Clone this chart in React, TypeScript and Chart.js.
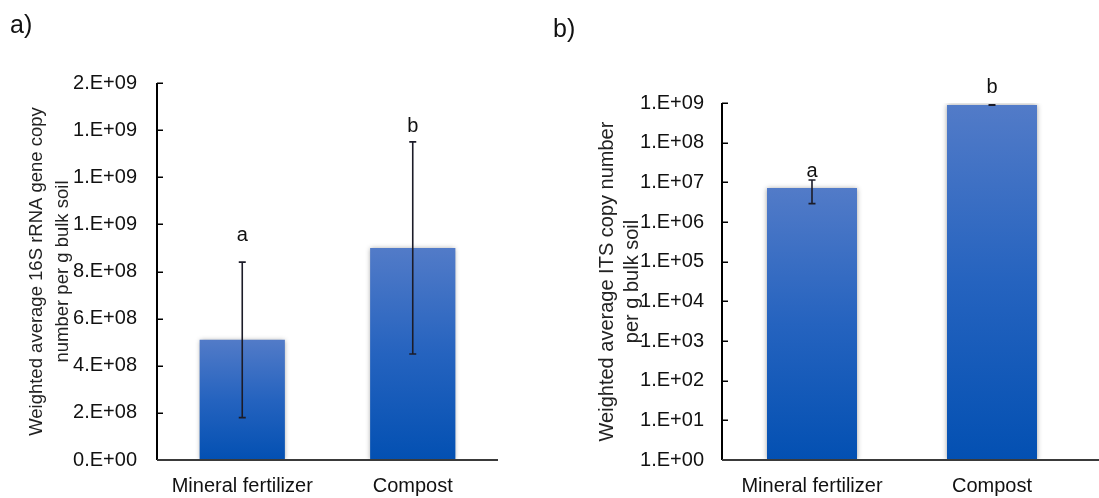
import React, { useEffect, useRef } from 'react';
import { Chart, registerables } from 'chart.js';

Chart.register(...registerables);

// Treatments and measured gene copy numbers (mean ± error)
const categories = ['Mineral fertilizer', 'Compost'];

const bacterialMeans = [5.1e8, 9.0e8];
const bacterialErrors = [3.3e8, 4.5e8];
const bacterialLetters = ['a', 'b'];
const bacterialTicks = [0, 2e8, 4e8, 6e8, 8e8, 1e9, 1.2e9, 1.4e9, 1.6e9];

const fungalMeans = [7.2e6, 8.9e8];
const fungalErrors = [4.3e6, 1.5e7];
const fungalLetters = ['a', 'b'];
const fungalTicks = [1, 1e1, 1e2, 1e3, 1e4, 1e5, 1e6, 1e7, 1e8, 1e9];

const FONT = '"Liberation Sans", Arial, Helvetica, sans-serif';

// Spreadsheet-style "0.E+00" number format
function sci(v: number): string {
  if (v === 0) return '0.E+00';
  const [m, e] = v.toExponential(0).split('e');
  const n = parseInt(e, 10);
  return `${m}.E${n < 0 ? '-' : '+'}${String(Math.abs(n)).padStart(2, '0')}`;
}

// Soft outer shadow around the bars
const barShadow = {
  id: 'barShadow',
  beforeDatasetsDraw(chart: any) {
    const c = chart.ctx;
    c.save();
    c.shadowColor = 'rgba(0,0,0,0.38)';
    c.shadowBlur = 5;
    c.shadowOffsetX = 0;
    c.shadowOffsetY = 0;
  },
  afterDatasetsDraw(chart: any) {
    chart.ctx.restore();
  },
};

// Axis lines with inward tick marks, error bars and significance letters
const overlay = {
  id: 'overlay',
  afterDraw(chart: any, _args: any, opts: any) {
    const c = chart.ctx;
    const area = chart.chartArea;
    const xs = chart.scales.x;
    const ys = chart.scales.y;
    c.save();

    // y axis line and inward ticks
    c.strokeStyle = '#000';
    c.lineWidth = 2;
    c.beginPath();
    c.moveTo(area.left, area.top);
    c.lineTo(area.left, area.bottom);
    c.stroke();
    c.lineWidth = 1.5;
    ys.ticks.forEach((t: any) => {
      const py = Math.round(ys.getPixelForValue(t.value)) + 0.25;
      c.beginPath();
      c.moveTo(area.left, py);
      c.lineTo(area.left + 6, py);
      c.stroke();
    });

    // x axis line
    c.strokeStyle = '#3a3a3a';
    c.lineWidth = 2;
    c.beginPath();
    c.moveTo(area.left, area.bottom);
    c.lineTo(opts.xLineEnd ?? area.right, area.bottom);
    c.stroke();

    // error bars
    const means: number[] = opts.means;
    const errs: number[] = opts.errors;
    c.strokeStyle = '#1c1c28';
    c.lineWidth = 1.6;
    means.forEach((m, i) => {
      const px = xs.getPixelForValue(i);
      const top = ys.getPixelForValue(m + errs[i]);
      const bot = ys.getPixelForValue(m - errs[i]);
      c.beginPath();
      c.moveTo(px, top);
      c.lineTo(px, bot);
      c.moveTo(px - 3.5, top);
      c.lineTo(px + 3.5, top);
      c.moveTo(px - 3.5, bot);
      c.lineTo(px + 3.5, bot);
      c.stroke();
    });

    // significance letters
    c.fillStyle = '#111';
    c.font = `20px ${FONT}`;
    c.textAlign = 'center';
    c.textBaseline = 'alphabetic';
    (opts.letters as string[]).forEach((l, i) => {
      const px = xs.getPixelForValue(i);
      const top = ys.getPixelForValue(means[i] + errs[i]);
      c.fillText(l, px, top - opts.letterGap[i]);
    });
    c.restore();
  },
};

type PanelProps = {
  width: number;
  left: number;
  label: string;
  yTitle: string[];
  yTitleSize: number;
  yTitleLineHeight: number;
  yTitlePad: number;
  means: number[];
  errors: number[];
  letters: string[];
  letterGap: number[];
  ticks: number[];
  log: boolean;
  padLeft: number;
  padRight: number;
  yWidth: number;
  tickPad: number;
  titlePadTop: number;
  titlePadBottom: number;
  xLineEnd?: number;
};

function Panel(p: PanelProps) {
  const ref = useRef<HTMLCanvasElement | null>(null);

  useEffect(() => {
    if (!ref.current) return;
    const chart = new Chart(ref.current, {
      type: 'bar',
      data: {
        labels: categories,
        datasets: [
          {
            data: p.means,
            categoryPercentage: 1,
            barPercentage: 0.5,
            borderWidth: 0,
            backgroundColor: (ctx: any) => {
              const ch = ctx.chart;
              const area = ch.chartArea;
              if (!area || ctx.type !== 'data' || !ch.scales.y) return '#2a62bd';
              const top = ch.scales.y.getPixelForValue(ctx.raw as number);
              const g = ch.ctx.createLinearGradient(0, top, 0, area.bottom);
              g.addColorStop(0, '#527bc8');
              g.addColorStop(0.5, '#2563bf');
              g.addColorStop(1, '#0350b2');
              return g;
            },
          },
        ],
      },
      options: {
        responsive: false,
        animation: false,
        devicePixelRatio: 1,
        layout: { padding: { left: p.padLeft, right: p.padRight, top: 0, bottom: 0 } },
        plugins: {
          legend: { display: false },
          tooltip: { enabled: false },
          title: {
            display: true,
            text: p.label,
            align: 'start',
            color: '#111',
            font: { family: FONT, size: 25, weight: 'normal', lineHeight: 1.2 },
            padding: { top: p.titlePadTop, bottom: p.titlePadBottom },
          },
          overlay: {
            means: p.means,
            errors: p.errors,
            letters: p.letters,
            letterGap: p.letterGap,
            xLineEnd: p.xLineEnd,
          },
        } as any,
        scales: {
          x: {
            type: 'category',
            grid: { display: false, drawTicks: false },
            border: { display: false },
            ticks: {
              color: '#111',
              padding: 14,
              font: { family: FONT, size: 20 },
            },
            afterFit: (s: any) => {
              s.height = 38;
            },
          },
          y: {
            type: p.log ? 'logarithmic' : 'linear',
            min: p.ticks[0],
            max: p.ticks[p.ticks.length - 1],
            grid: { display: false, drawTicks: false },
            border: { display: false },
            afterBuildTicks: (s: any) => {
              s.ticks = p.ticks.map((value) => ({ value }));
            },
            ticks: {
              color: '#111',
              padding: p.tickPad,
              autoSkip: false,
              font: { family: FONT, size: 20 },
              callback: (v: any) => sci(Number(v)),
            },
            title: {
              display: true,
              text: p.yTitle,
              color: '#222',
              font: { family: FONT, size: p.yTitleSize, lineHeight: p.yTitleLineHeight },
              padding: { top: p.yTitlePad, bottom: 0 },
            },
            afterFit: (s: any) => {
              s.width = p.yWidth;
            },
          } as any,
        },
      },
      plugins: [barShadow, overlay],
    });
    return () => chart.destroy();
  }, []);

  return (
    <canvas
      ref={ref}
      width={p.width}
      height={498}
      style={{ position: 'absolute', left: p.left, top: 0, width: p.width, height: 498 }}
    />
  );
}

export default function App() {
  return (
    <div
      style={{
        position: 'fixed',
        left: 0,
        top: 0,
        width: 1099,
        height: 498,
        background: '#fff',
        overflow: 'hidden',
      }}
    >
      <Panel
        width={550}
        left={0}
        label="a)"
        yTitle={['Weighted average 16S rRNA gene copy', 'number per g bulk soil']}
        yTitleSize={18.5}
        yTitleLineHeight={1.4}
        yTitlePad={14}
        means={bacterialMeans}
        errors={bacterialErrors}
        letters={bacterialLetters}
        letterGap={[21, 10]}
        ticks={bacterialTicks}
        log={false}
        padLeft={10}
        padRight={52}
        yWidth={147}
        tickPad={20}
        titlePadTop={11}
        titlePadBottom={42}
      />
      <Panel
        width={549}
        left={550}
        label="b)"
        yTitle={['Weighted average ITS copy number', 'per g bulk soil']}
        yTitleSize={20}
        yTitleLineHeight={1.25}
        yTitlePad={42}
        means={fungalMeans}
        errors={fungalErrors}
        letters={fungalLetters}
        letterGap={[3, 12]}
        ticks={fungalTicks}
        log={true}
        padLeft={3}
        padRight={17}
        yWidth={169}
        tickPad={18}
        titlePadTop={15}
        titlePadBottom={58}
        xLineEnd={549}
      />
    </div>
  );
}
